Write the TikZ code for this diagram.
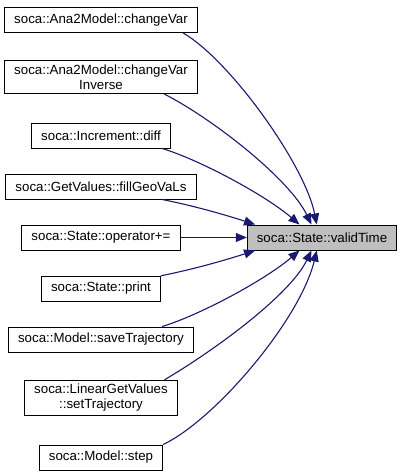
\documentclass[tikz,border=0pt]{standalone}
\usepackage{fontspec}
\setmainfont{Liberation Sans}
\usetikzlibrary{arrows.meta}
\definecolor{dxNavy}{HTML}{191970}
\definecolor{dxGris}{HTML}{BFBFBF}
\begin{document}
\begin{tikzpicture}[x=1pt,y=-1pt,
      fn/.style={draw=black, line width=1pt, fill=white, align=center,
                 inner xsep=9.5pt, inner ysep=4pt, minimum height=25pt,
                 font=\fontsize{13.3}{15}\selectfont},
      llama/.style={-{Triangle[length=11pt,width=9pt]}, dxNavy, line width=1.1pt}]
    \useasboundingbox (0,0) rectangle (404,475);
    \node[fn, fill=dxGris] (valid) at (322,237.5) {soca::State::validTime};
    \node[fn] (chgvar)    at (101,20)    {soca::Ana2Model::changeVar};
    \node[fn] (chgvarinv) at (101,77)    {soca::Ana2Model::changeVar\\Inverse};
    \node[fn] (incdiff)   at (101,135.5) {soca::Increment::diff};
    \node[fn] (fillgeo)   at (101,186.5) {soca::GetValues::fillGeoVaLs};
    \node[fn] (opplus)    at (101,237.5) {soca::State::operator+=};
    \node[fn] (print)     at (101,288.5) {soca::State::print};
    \node[fn] (savetraj)  at (101,339.5) {soca::Model::saveTrajectory};
    \node[fn] (settraj)   at (101,398)   {soca::LinearGetValues\\::setTrajectory};
    \node[fn] (mdlstep)   at (101,457.5) {soca::Model::step};
    % callers into validTime
    \draw[llama] (chgvar.-9)     .. controls (230,60) and (305,165)  .. (valid.112);
    \draw[llama] (chgvarinv.-15) .. controls (215,120) and (290,180) .. (valid.129);
    \draw[llama] (incdiff.-12)   .. controls (200,160) and (265,195) .. (valid.150);
    \draw[llama] (fillgeo.-12)   .. controls (200,207) and (235,218) .. (valid.169);
    \draw[llama] (opplus) -- (valid);
    \draw[llama] (print.12)      .. controls (200,268) and (235,257) .. (valid.-169);
    \draw[llama] (savetraj.12)   .. controls (200,315) and (265,280) .. (valid.-150);
    \draw[llama] (settraj.16)    .. controls (215,350) and (290,295) .. (valid.-129);
    \draw[llama] (mdlstep.north east) .. controls (215,420) and (300,320) .. (valid.-112);
\end{tikzpicture}
\end{document}
